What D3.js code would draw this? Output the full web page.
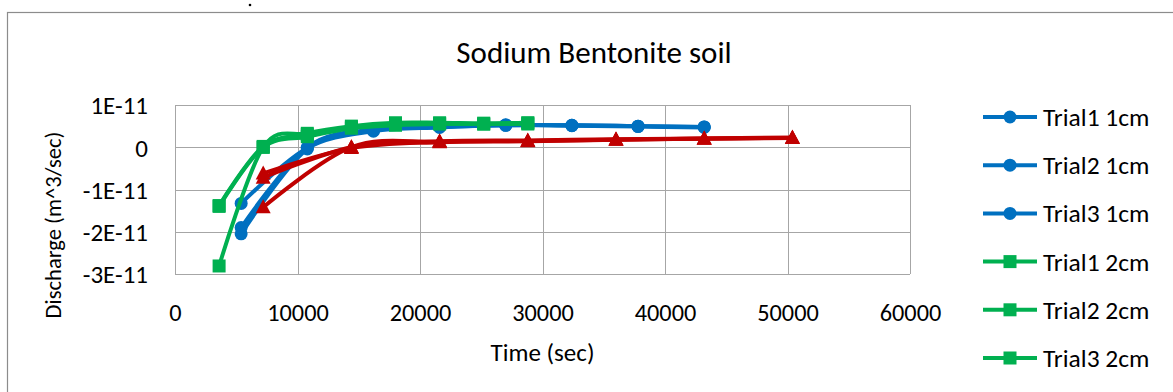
<!DOCTYPE html>
<html>
<head>
    <meta charset="utf-8">
    <title>Sodium Bentonite soil</title>
    <style>
        body { margin: 0; background: #fff; }
        text { font-family: Carlito, Calibri, Lato, sans-serif; fill: #000; }
        .grid line { stroke: #a6a6a6; stroke-width: 1px; }
        .series .trace { fill: none; stroke-width: 4px; }
    </style>
</head>
<body>
<div id="chart"></div>
<script src="https://d3js.org/d3.v7.min.js"></script>
<script>
    // time (sec) for each group of trials
    var time1cm = [5400, 10800, 16200, 21600, 27000, 32400, 37800, 43200];
    var time2cm = [3600, 7200, 10800, 14400, 18000, 21600, 25200, 28800];
    var time3cm = [7200, 14400, 21600, 28800, 36000, 43200, 50400];

    // discharge (m^3/sec)
    var trial1_1cm = [-1.33e-11, -0.02e-11, 0.38e-11, 0.47e-11, 0.52e-11, 0.52e-11, 0.50e-11, 0.48e-11];
    var trial2_1cm = [-1.90e-11, 0.00e-11, 0.42e-11, 0.49e-11, 0.53e-11, 0.51e-11, 0.49e-11, 0.47e-11];
    var trial3_1cm = [-2.05e-11, -0.04e-11, 0.40e-11, 0.48e-11, 0.52e-11, 0.52e-11, 0.50e-11, 0.48e-11];
    var trial1_2cm = [-1.40e-11, 0.00e-11, 0.25e-11, 0.45e-11, 0.52e-11, 0.55e-11, 0.55e-11, 0.55e-11];
    var trial2_2cm = [-2.81e-11, 0.00e-11, 0.33e-11, 0.50e-11, 0.58e-11, 0.58e-11, 0.57e-11, 0.58e-11];
    var trial3_2cm = [-1.38e-11, 0.02e-11, 0.30e-11, 0.48e-11, 0.55e-11, 0.56e-11, 0.55e-11, 0.57e-11];
    var trial1_3cm = [-0.62e-11, -0.02e-11, 0.12e-11, 0.14e-11, 0.18e-11, 0.21e-11, 0.22e-11];
    var trial2_3cm = [-0.72e-11, 0.00e-11, 0.14e-11, 0.16e-11, 0.19e-11, 0.21e-11, 0.23e-11];
    var trial3_3cm = [-1.42e-11, 0.00e-11, 0.13e-11, 0.15e-11, 0.18e-11, 0.20e-11, 0.22e-11];

    var xTicks = [0, 10000, 20000, 30000, 40000, 50000, 60000];
    var yTicks = [1e-11, 0, -1e-11, -2e-11, -3e-11];

    var seriesNames = ["Trial1 1cm", "Trial2 1cm", "Trial3 1cm",
                       "Trial1 2cm", "Trial2 2cm", "Trial3 2cm",
                       "Trial1 3cm", "Trial2 3cm", "Trial3 3cm"];
    var seriesTimes = [time1cm, time1cm, time1cm, time2cm, time2cm, time2cm, time3cm, time3cm, time3cm];
    var seriesValues = [trial1_1cm, trial2_1cm, trial3_1cm, trial1_2cm, trial2_2cm, trial3_2cm,
                        trial1_3cm, trial2_3cm, trial3_3cm];

    var colors = { circle: "#0070c0", square: "#00b050", triangle: "#c00000" };
    var shapes = ["circle", "circle", "circle", "square", "square", "square",
                  "triangle", "triangle", "triangle"];

    var width = 1173, height = 392;
    var plot = { left: 175, right: 910, top: 105, bottom: 274 };

    var svg = d3.select("#chart").append("svg")
        .attr("width", width)
        .attr("height", height);

    svg.append("rect")
        .attr("width", width).attr("height", height)
        .attr("fill", "#fff");

    // outer chart frame (cut off at right and bottom)
    svg.append("rect")
        .attr("x", 7.5).attr("y", 12.5)
        .attr("width", 1300).attr("height", 500)
        .attr("fill", "none")
        .attr("stroke", "#8c8c8c")
        .attr("stroke-width", 1.2);

    svg.append("circle").attr("cx", 250).attr("cy", 5).attr("r", 1.3).attr("fill", "#000");

    var x = d3.scaleLinear().domain([0, 60000]).range([plot.left, plot.right]);
    var y = d3.scaleLinear().domain([-3e-11, 1e-11]).range([plot.bottom, plot.top]);

    // grid
    var grid = svg.append("g").attr("class", "grid");
    grid.selectAll(".gx").data(xTicks).enter().append("line")
        .attr("x1", function(d) { return Math.round(x(d)) + 0.5; })
        .attr("x2", function(d) { return Math.round(x(d)) + 0.5; })
        .attr("y1", plot.top).attr("y2", plot.bottom);
    grid.selectAll(".gy").data(yTicks).enter().append("line")
        .attr("x1", plot.left).attr("x2", plot.right)
        .attr("y1", function(d) { return Math.round(y(d)) + 0.5; })
        .attr("y2", function(d) { return Math.round(y(d)) + 0.5; });

    // axes (labels only)
    var fmtY = function(d) {
        if (d === 0) return "0";
        return Math.round(d / 1e-11) + "E-11";
    };
    var yAxis = svg.append("g")
        .attr("transform", "translate(" + (plot.left - 27) + ",0)")
        .call(d3.axisLeft(y).tickValues(yTicks).tickSize(0).tickFormat(fmtY));
    var xAxis = svg.append("g")
        .attr("transform", "translate(0," + (plot.bottom + 27) + ")")
        .call(d3.axisBottom(x).tickValues(xTicks).tickSize(0).tickFormat(d3.format("d")));
    [yAxis, xAxis].forEach(function(a) {
        a.select(".domain").remove();
        a.selectAll("text").attr("font-family", null).attr("font-size", null);
    });
    xAxis.selectAll("text").attr("dy", "0.71em").style("font-size", "24.3px");
    yAxis.selectAll("text").attr("x", 0).attr("dy", "0.35em").style("font-size", "25px");

    // titles
    svg.append("text")
        .attr("x", 594).attr("y", 52).attr("dy", "0.35em")
        .attr("text-anchor", "middle")
        .style("font-size", "31px")
        .text("Sodium Bentonite soil");
    svg.append("text")
        .attr("x", (plot.left + plot.right) / 2).attr("y", 352).attr("dy", "0.35em")
        .attr("text-anchor", "middle")
        .style("font-size", "25px")
        .text("Time (sec)");
    svg.append("text")
        .attr("transform", "translate(53,225) rotate(-90)")
        .attr("dy", "0.35em")
        .attr("text-anchor", "middle")
        .style("font-size", "22.6px")
        .text("Discharge (m^3/sec)");

    function drawMarker(sel, shape, color) {
        if (shape === "circle") {
            sel.append("circle").attr("r", 6.5).attr("fill", color);
        } else if (shape === "square") {
            sel.append("rect").attr("x", -6.5).attr("y", -6.5)
                .attr("width", 13).attr("height", 13).attr("fill", color);
        } else {
            sel.append("path").attr("d", "M0,-8L7.5,6L-7.5,6Z").attr("fill", color);
        }
    }

    var line = d3.line()
        .x(function(d) { return x(d[0]); })
        .y(function(d) { return y(d[1]); })
        .curve(d3.curveCardinal.tension(0));

    seriesNames.forEach(function(name, i) {
        var color = colors[shapes[i]];
        var pts = seriesTimes[i].map(function(t, j) { return [t, seriesValues[i][j]]; });
        var g = svg.append("g").attr("class", "series");
        g.append("path").attr("class", "trace").attr("d", line(pts)).attr("stroke", color);
        g.selectAll(".m").data(pts).enter().append("g")
            .attr("transform", function(d) { return "translate(" + x(d[0]) + "," + y(d[1]) + ")"; })
            .each(function() { drawMarker(d3.select(this), shapes[i], color); });
    });

    // legend (entries below the picture's bottom edge are cut off, as in the original)
    var legendTop = 117, legendStep = 48.2;
    var shown = seriesNames.filter(function(d, i) { return legendTop + i * legendStep < height - 10; });
    var legend = svg.append("g").attr("transform", "translate(983," + legendTop + ")");
    var item = legend.selectAll(".item").data(shown).enter().append("g")
        .attr("transform", function(d, i) { return "translate(0," + (i * legendStep) + ")"; });
    item.append("line")
        .attr("x1", 0).attr("x2", 54)
        .attr("stroke-width", 4)
        .attr("stroke", function(d, i) { return colors[shapes[i]]; });
    item.each(function(d, i) {
        var m = d3.select(this).append("g").attr("transform", "translate(27,0)");
        drawMarker(m, shapes[i], colors[shapes[i]]);
    });
    item.append("text")
        .attr("x", 60).attr("dy", "0.35em")
        .style("font-size", "25.5px")
        .text(function(d) { return d; });
</script>
</body>
</html>
